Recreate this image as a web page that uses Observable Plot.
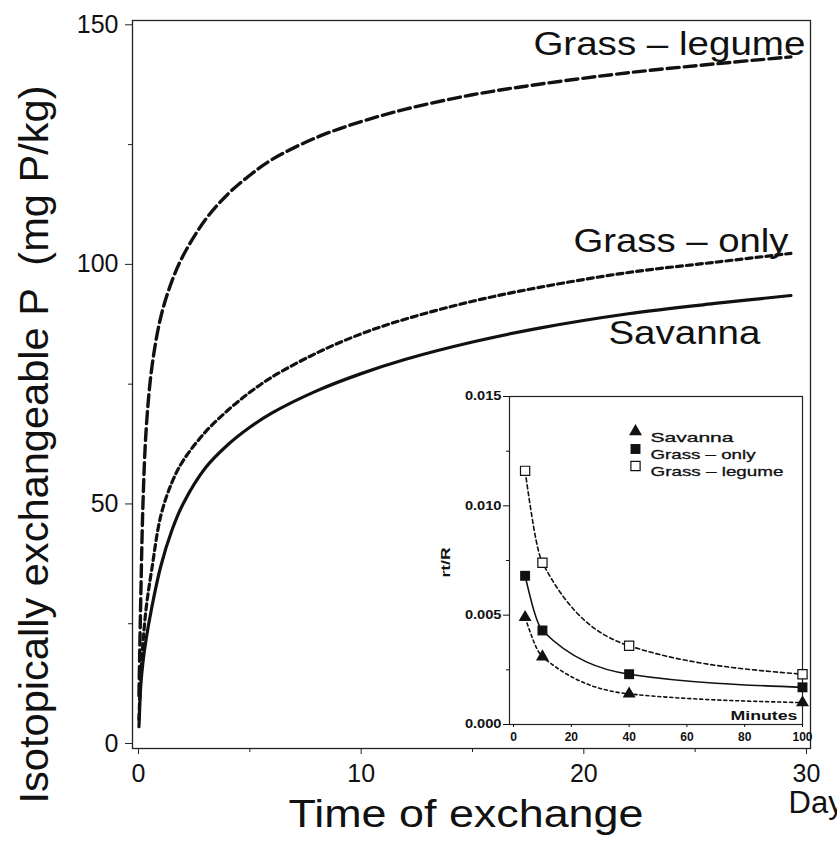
<!DOCTYPE html>
<html><head><meta charset="utf-8">
<script src="https://cdn.jsdelivr.net/npm/d3@7"></script>
<script src="https://cdn.jsdelivr.net/npm/@observablehq/plot@0.6"></script>
<style>
body{margin:0;background:#fff;}
#wrap{position:relative;width:837px;height:850px;overflow:hidden;background:#fff;}
#main{position:absolute;left:0;top:0;}
#inset{position:absolute;left:420px;top:370px;}
</style></head><body><div id="wrap"><div id="main"></div><div id="inset"></div></div>
<script>
// ---- main chart data (days vs mg P/kg) ----
const days        = [0.02, 0.05, 0.1, 0.2, 0.35, 0.6, 1, 1.5, 2, 3, 4, 5, 6, 8, 10, 12, 15, 18, 22, 26, 29.3];
const grassLegume = [10, 18, 30, 50, 66, 78.5, 89, 96.5, 101.8, 109.3, 114.6, 118.6, 121.9, 126.5, 129.8, 132.4, 135.4, 137.6, 140, 141.9, 143.3];
const grassOnly   = [5, 9, 14, 21, 28.5, 36.5, 47.5, 54.5, 59, 65, 69.5, 73.3, 76.5, 81.5, 85.5, 88.6, 92.3, 95.2, 98.3, 100.5, 102.3];
const savanna     = [3.5, 7, 12, 17, 22, 28.5, 37, 44.5, 50, 57.5, 62.3, 66, 69, 73.6, 77.2, 80.2, 83.8, 86.7, 89.7, 91.9, 93.5];
const seriesNames = ["Grass – legume", "Grass – only", "Savanna"];
const yTicks = [0, 50, 100, 150];
const yMinor = [25, 75, 125];
const xTicks = [0, 10, 20, 30];
const xMinor = [5, 15, 25];
const yTitle = "Isotopically exchangeable P  (mg P/kg)";
const xTitle = "Time of exchange";
const xUnit = "Days";

// ---- inset data (minutes vs rt/R) ----
const minutes       = [4, 10, 40, 100];
const savannaRt     = [0.0049, 0.0031, 0.0014, 0.0010];
const grassOnlyRt   = [0.0068, 0.0043, 0.0023, 0.0017];
const grassLegumeRt = [0.0116, 0.0074, 0.0036, 0.0023];
const insetYTicks = [0, 0.005, 0.010, 0.015];
const insetYMinor = [0.0025, 0.0075, 0.0125];
const insetXTicks = [0, 20, 40, 60, 80, 100];
const insetYTitle = "rt/R";
const insetXTitle = "Minutes";

const font = "'Liberation Sans', Arial, Helvetica, sans-serif";
const ink = "#111";

const rowsOf = (xs, ys) => xs.map((x, i) => ({x, y: ys[i]}));

// label anchors for the curve names (data coordinates)
const mainLabels = [
  {label: seriesNames[0], x: 29.95, y: 145.9, w: 272},
  {label: seriesNames[1], x: 29.19, y: 104.8, w: 215},
  {label: seriesNames[2], x: 27.93, y: 85.6,  w: 152}
];

const main = Plot.plot({
  width: 837, height: 850,
  marginLeft: 132, marginRight: 27, marginTop: 20, marginBottom: 102,
  style: {fontFamily: font, background: "white", color: ink, overflow: "visible"},
  x: {domain: [-0.27, 30.18], label: null},
  y: {domain: [-1.04, 150.9], label: null},
  marks: [
    Plot.frame({stroke: "#222", strokeWidth: 1.3}),
    Plot.axisY(yTicks, {tickSize: 7, tickPadding: 7, fontSize: 25, label: null, stroke: "#222"}),
    Plot.axisY(yMinor, {tickSize: 4, tickFormat: () => "", label: null, stroke: "#222"}),
    Plot.axisX(xTicks, {tickSize: 6, tickPadding: 10, fontSize: 25, label: null, stroke: "#222"}),
    Plot.axisX(xMinor, {tickSize: 4, tickFormat: () => "", label: null, stroke: "#222"}),
    Plot.line(rowsOf(days, grassLegume), {x: "x", y: "y", curve: "catmull-rom", stroke: ink, strokeWidth: 3.4, strokeDasharray: "12,5"}),
    Plot.line(rowsOf(days, grassOnly), {x: "x", y: "y", curve: "catmull-rom", stroke: ink, strokeWidth: 3.2, strokeDasharray: "6,4"}),
    Plot.line(rowsOf(days, savanna), {x: "x", y: "y", curve: "catmull-rom", stroke: ink, strokeWidth: 3.2}),
    Plot.text(mainLabels, {x: "x", y: "y", text: "label", textAnchor: "end", fontSize: 34, fill: ink}),
    Plot.text([xTitle], {text: d => d, frameAnchor: "bottom", textAnchor: "middle", dx: -5.5, dy: 78, fontSize: 38, fill: ink}),
    Plot.text([yTitle], {text: d => d, frameAnchor: "left", textAnchor: "middle", rotate: -90, dx: -98, dy: 60, fontSize: 41.5, fill: ink}),
    Plot.text([xUnit], {text: d => d, frameAnchor: "bottom-right", textAnchor: "start", dx: -22, dy: 64, fontSize: 31, fill: ink})
  ]
});
document.getElementById("main").appendChild(main);

function fixWidth(svg, content, width) {
  d3.select(svg).selectAll("text")
    .filter(function() { return this.textContent === content; })
    .attr("textLength", width).attr("lengthAdjust", "spacingAndGlyphs");
}
mainLabels.forEach(d => fixWidth(main, d.label, d.w));
fixWidth(main, xTitle, 355);
fixWidth(main, yTitle, 718);

// ---- inset ----
const legendItems = [
  {name: seriesNames[2], symbol: "triangle", fill: ink, stroke: "none", r: 4.8, dy: 35, w: 83},
  {name: seriesNames[1], symbol: "square", fill: ink, stroke: "none", r: 5.6, dy: 52.5, w: 105},
  {name: seriesNames[0], symbol: "square", fill: "white", stroke: ink, r: 5.2, dy: 69.5, w: 133}
];

const inset = Plot.plot({
  width: 400, height: 380,
  marginLeft: 89, marginRight: 18, marginTop: 26, marginBottom: 26,
  style: {fontFamily: font, background: "transparent", color: ink, overflow: "visible"},
  x: {domain: [-1.4, 100], label: null},
  y: {domain: [0, 0.015], label: null},
  marks: [
    Plot.frame({fill: "white", stroke: "#222", strokeWidth: 1.2}),
    Plot.axisY(insetYTicks, {tickSize: 6, tickPadding: 2, fontSize: 12, fontWeight: "bold", tickFormat: d3.format(".3f"), label: null}),
    Plot.axisY(insetYMinor, {tickSize: 3, tickFormat: () => "", label: null}),
    Plot.axisX(insetXTicks, {tickSize: 3, tickPadding: 5, fontSize: 12, fontWeight: "bold", label: null}),
    Plot.line(rowsOf(minutes, grassLegumeRt), {x: "x", y: "y", curve: "monotone-x", stroke: ink, strokeWidth: 1.6, strokeDasharray: "4,3"}),
    Plot.line(rowsOf(minutes, grassOnlyRt), {x: "x", y: "y", curve: "monotone-x", stroke: ink, strokeWidth: 1.6}),
    Plot.line(rowsOf(minutes, savannaRt), {x: "x", y: "y", curve: "monotone-x", stroke: ink, strokeWidth: 1.6, strokeDasharray: "3,3"}),
    Plot.dot(rowsOf(minutes, savannaRt), {x: "x", y: "y", symbol: "triangle", fill: ink, r: 4.8}),
    Plot.dot(rowsOf(minutes, grassOnlyRt), {x: "x", y: "y", symbol: "square", fill: ink, r: 5.6}),
    Plot.dot(rowsOf(minutes, grassLegumeRt), {x: "x", y: "y", symbol: "square", fill: "white", stroke: ink, strokeWidth: 1.2, r: 5.2}),
    ...legendItems.flatMap(it => [
      Plot.dot([it], {frameAnchor: "top-left", dx: 126, dy: it.dy, symbol: it.symbol, fill: it.fill, stroke: it.stroke, strokeWidth: 1.2, r: it.r}),
      Plot.text([it], {frameAnchor: "top-left", dx: 141, dy: it.dy + 1, text: "name", textAnchor: "start", fontSize: 13, fill: ink, stroke: ink, strokeWidth: 0.3})
    ]),
    Plot.text([insetXTitle], {text: d => d, frameAnchor: "bottom-right", textAnchor: "end", dx: -5, dy: -5, fontSize: 13, fontWeight: "bold", fill: ink}),
    Plot.text([insetYTitle], {text: d => d, frameAnchor: "left", textAnchor: "middle", rotate: -90, dx: -63, dy: 2, fontSize: 12, fontWeight: "bold", fill: ink})
  ]
});
document.getElementById("inset").appendChild(inset);

legendItems.forEach(it => fixWidth(inset, it.name, it.w));
fixWidth(inset, insetXTitle, 67);
fixWidth(inset, insetYTitle, 30);
d3.select(inset).selectAll("g[aria-label='y-axis tick label'] text").each(function() {
  const w = this.getComputedTextLength();
  if (w > 0) d3.select(this).attr("textLength", w * 1.22).attr("lengthAdjust", "spacingAndGlyphs");
});
</script></body></html>
